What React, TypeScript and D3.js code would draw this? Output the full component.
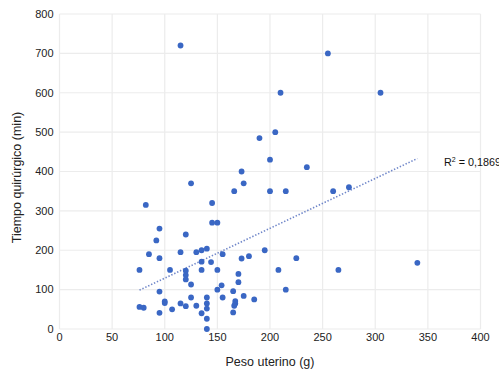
import { useEffect, useRef } from 'react';
import * as d3 from 'd3';

// Peso uterino (g)
const pesoUterino = [
  115, 255, 210, 305, 205, 190, 200, 235, 173, 125, 175, 275, 166, 200, 215, 260,
  82, 145, 145, 150, 95, 120, 92, 85, 115, 130, 135, 140, 155, 195, 95, 173,
  180, 225, 135, 144, 340, 76, 105, 120, 135, 150, 208, 265, 170, 120, 120, 170,
  125, 154, 150, 215, 165, 95, 175, 125, 140, 155, 185, 100, 100, 167, 167, 140,
  115, 76, 80, 120, 130, 166, 107, 140, 95, 135, 165, 140, 140,
];
// Tiempo quirúrgico (min)
const tiempoQuirurgico = [
  720, 700, 600, 600, 500, 485, 430, 411, 400, 370, 370, 360, 350, 350, 350, 350,
  315, 320, 270, 270, 255, 240, 225, 190, 195, 195, 200, 204, 190, 200, 180, 179,
  185, 180, 171, 170, 168, 150, 150, 148, 150, 150, 150, 150, 140, 137, 126, 119,
  113, 111, 100, 100, 96, 95, 84, 80, 80, 80, 75, 70, 66, 71, 65, 65,
  65, 56, 54, 58, 59, 59, 50, 52, 41, 40, 42, 26, 0,
];
const xTicks = [0, 50, 100, 150, 200, 250, 300, 350, 400];
const yTicks = [0, 100, 200, 300, 400, 500, 600, 700, 800];
const r2Label = '0,1869';

export default function App() {
  const ref = useRef<SVGSVGElement>(null);

  useEffect(() => {
    if (!ref.current) return;
    const svg = d3.select(ref.current);
    svg.selectAll('*').remove();

    const width = 499;
    const height = 374;
    const plot = { left: 59.5, right: 480.5, top: 14, bottom: 329 };
    const font = '"Liberation Sans", Arial, sans-serif';

    const x = d3.scaleLinear().domain([0, 400]).range([plot.left, plot.right]);
    const y = d3.scaleLinear().domain([0, 800]).range([plot.bottom, plot.top]);

    svg.attr('width', width).attr('height', height);

    // gridlines
    svg.append('g')
      .selectAll('line')
      .data(xTicks)
      .enter()
      .append('line')
      .attr('x1', d => x(d))
      .attr('x2', d => x(d))
      .attr('y1', plot.top)
      .attr('y2', plot.bottom)
      .attr('stroke', '#ececec')
      .attr('stroke-width', 1.2);

    svg.append('g')
      .selectAll('line')
      .data(yTicks)
      .enter()
      .append('line')
      .attr('x1', plot.left)
      .attr('x2', plot.right)
      .attr('y1', d => y(d))
      .attr('y2', d => y(d))
      .attr('stroke', '#ececec')
      .attr('stroke-width', 1.2);

    // tick labels
    svg.append('g')
      .selectAll('text')
      .data(xTicks)
      .enter()
      .append('text')
      .attr('x', d => x(d))
      .attr('y', plot.bottom + 12)
      .attr('text-anchor', 'middle')
      .style('font-family', font)
      .style('font-size', '11px')
      .style('fill', '#222')
      .text(d => d);

    svg.append('g')
      .selectAll('text')
      .data(yTicks)
      .enter()
      .append('text')
      .attr('x', plot.left - 6)
      .attr('y', d => y(d))
      .attr('dy', '0.35em')
      .attr('text-anchor', 'end')
      .style('font-family', font)
      .style('font-size', '11px')
      .style('fill', '#222')
      .text(d => d);

    // axis titles
    svg.append('text')
      .attr('x', 270)
      .attr('y', 366)
      .attr('text-anchor', 'middle')
      .style('font-family', font)
      .style('font-size', '12.5px')
      .style('fill', '#222')
      .text('Peso uterino (g)');

    svg.append('text')
      .attr('transform', `translate(21,${(plot.top + plot.bottom) / 2 + 6}) rotate(-90)`)
      .attr('text-anchor', 'middle')
      .style('font-family', font)
      .style('font-size', '12.5px')
      .style('fill', '#222')
      .text('Tiempo quirúrgico (min)');

    // linear trendline (least squares)
    const pts = pesoUterino.map((v, i) => [v, tiempoQuirurgico[i]]);
    const mx = d3.mean(pesoUterino) as number;
    const my = d3.mean(tiempoQuirurgico) as number;
    const sxy = d3.sum(pts, p => (p[0] - mx) * (p[1] - my));
    const sxx = d3.sum(pts, p => (p[0] - mx) ** 2);
    const slope = sxy / sxx;
    const intercept = my - slope * mx;
    const [minX, maxX] = d3.extent(pesoUterino) as [number, number];

    svg.append('line')
      .attr('x1', x(minX))
      .attr('y1', y(intercept + slope * minX))
      .attr('x2', x(maxX))
      .attr('y2', y(intercept + slope * maxX))
      .attr('stroke', '#6f86c9')
      .attr('stroke-width', 1.6)
      .attr('stroke-dasharray', '1.4 1.8');

    // points
    svg.append('g')
      .selectAll('circle')
      .data(pts)
      .enter()
      .append('circle')
      .attr('cx', d => x(d[0]))
      .attr('cy', d => y(d[1]))
      .attr('r', 2.9)
      .attr('fill', '#3a67c4');

    // R² label
    const r2 = svg.append('text')
      .attr('x', 444)
      .attr('y', 166)
      .style('font-family', font)
      .style('font-size', '10.8px')
      .style('fill', '#111');
    r2.append('tspan').text('R');
    r2.append('tspan').attr('dy', -4).style('font-size', '7px').text('2');
    r2.append('tspan').attr('dy', 4).text(` = ${r2Label}`);
  }, []);

  return <svg ref={ref} style={{ position: 'absolute', left: 0, top: 0 }} />;
}
